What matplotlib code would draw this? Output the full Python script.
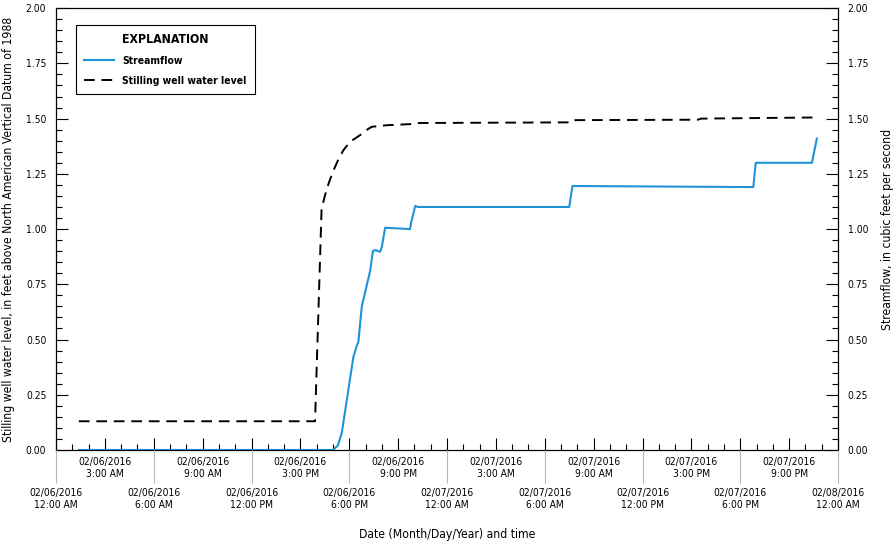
import matplotlib
matplotlib.use("Agg")
import matplotlib.pyplot as plt
from matplotlib import font_manager
from matplotlib.lines import Line2D
from matplotlib.ticker import MultipleLocator

# prefer a condensed sans (the original uses Univers Condensed)
narrow = [f for f in font_manager.fontManager.ttflist
          if ('Narrow' in f.name or 'Condensed' in f.name or f.stretch == 'condensed')
          and f.style == 'normal']
if narrow:
    plt.rcParams['font.family'] = [narrow[0].name, 'DejaVu Sans']
    plt.rcParams['font.stretch'] = 'condensed'
    k = 1.0
else:
    plt.rcParams['font.family'] = ['Liberation Sans', 'DejaVu Sans']
    k = 0.88

# hours after 02/06/2016 12:00 AM
level_hours = [1.4, 15.9, 16.3, 16.5, 16.75, 17.0, 17.3, 17.64, 18.05, 18.66,
               19.1, 19.38, 20.3, 21.73, 22.0, 31.6, 31.75, 39.4, 39.6, 46.4, 46.7]
level_ft = [0.13, 0.13, 1.09, 1.15, 1.21, 1.26, 1.31, 1.357, 1.395, 1.425,
            1.45, 1.463, 1.47, 1.475, 1.48, 1.483, 1.493, 1.495, 1.50, 1.505, 1.51]

flow_hours = [1.4, 17.0, 17.3, 17.54, 17.85, 18.25, 18.45, 18.56, 18.77, 19.28,
              19.45, 19.6, 19.89, 20.0, 20.2, 21.73, 21.8, 22.05, 22.2, 31.5,
              31.7, 42.8, 42.95, 46.4, 46.7]
flow_cfs = [0.0, 0.0, 0.02, 0.077, 0.226, 0.42, 0.47, 0.49, 0.65, 0.81,
            0.90, 0.905, 0.897, 0.92, 1.006, 1.0, 1.03, 1.105, 1.10, 1.10,
            1.195, 1.19, 1.30, 1.30, 1.41]

lower_ticks = [0, 6, 12, 18, 24, 30, 36, 42, 48]
lower_labels = ['02/06/2016\n12:00 AM', '02/06/2016\n6:00 AM', '02/06/2016\n12:00 PM',
                '02/06/2016\n6:00 PM', '02/07/2016\n12:00 AM', '02/07/2016\n6:00 AM',
                '02/07/2016\n12:00 PM', '02/07/2016\n6:00 PM', '02/08/2016\n12:00 AM']
upper_ticks = [3, 9, 15, 21, 27, 33, 39, 45]
upper_labels = ['02/06/2016\n3:00 AM', '02/06/2016\n9:00 AM', '02/06/2016\n3:00 PM',
                '02/06/2016\n9:00 PM', '02/07/2016\n3:00 AM', '02/07/2016\n9:00 AM',
                '02/07/2016\n3:00 PM', '02/07/2016\n9:00 PM']

blue = '#1f93d8'
tick_fs = 7.4 * k
label_fs = 8.7 * k

fig = plt.figure(figsize=(8.96, 5.43), dpi=100)
ax = fig.add_axes([0.0625, 0.1713, 0.8728, 0.8137])

ax.plot(level_hours, level_ft, color='black', lw=1.4, dashes=(5.5, 3.5))
ax.set_xlim(0, 48)
ax.set_ylim(0, 2)

# inward ticks on the plot frame
ax.xaxis.set_major_locator(MultipleLocator(3))
ax.xaxis.set_minor_locator(MultipleLocator(1))
ax.yaxis.set_major_locator(MultipleLocator(0.25))
ax.yaxis.set_minor_locator(MultipleLocator(0.05))
ax.tick_params(axis='x', which='both', direction='in', top=True, labelbottom=False, width=0.8)
ax.tick_params(axis='x', which='major', length=8.6)
ax.tick_params(axis='x', which='minor', length=4.3)
ax.tick_params(axis='y', which='both', direction='in', width=0.8, labelsize=tick_fs, pad=7)
ax.tick_params(axis='y', which='major', length=8.6)
ax.tick_params(axis='y', which='minor', length=4.3)
ax.yaxis.set_major_formatter(plt.FormatStrFormatter('%.2f'))
ax.set_ylabel('Stilling well water level, in feet above North American Vertical Datum of 1988',
              fontsize=label_fs)
ax.yaxis.set_label_coords(-0.053, 0.5)

# streamflow on right axis
ax2 = ax.twinx()
ax2.plot(flow_hours, flow_cfs, color=blue, lw=1.5)
ax2.set_ylim(0, 2)
ax2.yaxis.set_major_locator(MultipleLocator(0.25))
ax2.yaxis.set_minor_locator(MultipleLocator(0.05))
ax2.tick_params(axis='y', which='both', direction='in', width=0.8, labelsize=tick_fs, pad=7)
ax2.tick_params(axis='y', which='major', length=8.6)
ax2.tick_params(axis='y', which='minor', length=4.3)
ax2.yaxis.set_major_formatter(plt.FormatStrFormatter('%.2f'))
ax2.set_ylabel('Streamflow, in cubic feet per second', fontsize=label_fs, rotation=90)
ax2.yaxis.set_label_coords(1.055, 0.5)

# date labels in two rows
ax3 = ax.twiny()
ax3.set_xlim(0, 48)
ax3.xaxis.set_ticks_position('bottom')
ax3.xaxis.set_label_position('bottom')
for s in ax3.spines.values():
    s.set_visible(False)
ax3.set_xticks(lower_ticks, lower_labels)
ax3.set_xticks(upper_ticks, upper_labels, minor=True)
ax3.tick_params(axis='x', which='major', direction='out', length=23.8, width=0.8,
                color='#b5b5b5', pad=3.6, labelsize=tick_fs)
ax3.tick_params(axis='x', which='minor', length=0, pad=5, labelsize=tick_fs)
ax3.set_xlabel('Date (Month/Day/Year) and time', fontsize=label_fs)
ax3.xaxis.set_label_coords(0.5, -0.176)

handles = [Line2D([], [], color='none'),
           Line2D([], [], color=blue, lw=1.5),
           Line2D([], [], color='black', lw=1.4, dashes=(5.5, 3.5))]
labels = ['EXPLANATION', 'Streamflow', 'Stilling well water level']
leg = ax2.legend(handles, labels, loc='upper left', bbox_to_anchor=(0.0256, 0.9615),
                 borderaxespad=0, fancybox=False, edgecolor='black', framealpha=1,
                 fontsize=7.5 * k, handlelength=2.9, labelspacing=0.95, borderpad=0.75)
leg.get_frame().set_linewidth(0.8)
for i, t in enumerate(leg.get_texts()):
    t.set_fontweight('bold')
    if i == 0:
        t.set_fontsize(8.8 * k)

fig.savefig('out.png', dpi=100)
